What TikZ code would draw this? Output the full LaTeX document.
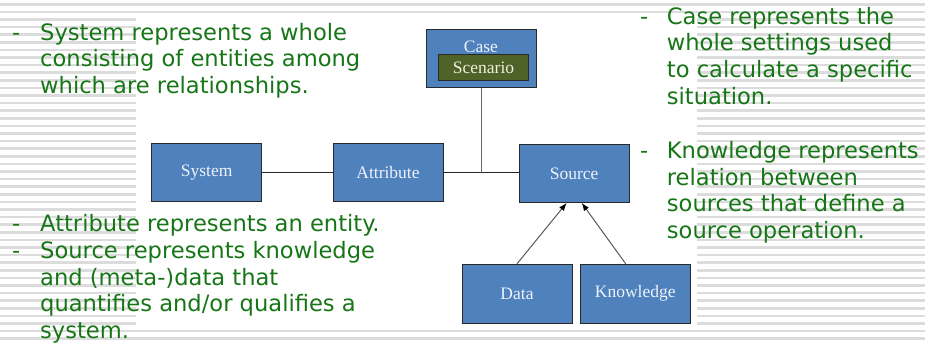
\documentclass[tikz,border=0pt]{standalone}
\usepackage{fontspec}
\setmainfont{Liberation Serif}
\newfontfamily\notefont{DejaVu Sans}
\usetikzlibrary{arrows.meta,calc}
\definecolor{boxblue}{RGB}{79,129,189}
\definecolor{boxline}{RGB}{40,40,40}
\definecolor{scenolive}{RGB}{79,98,40}
\definecolor{notegreen}{RGB}{22,118,22}
\definecolor{stripe}{RGB}{220,220,220}
\definecolor{labelwhite}{RGB}{238,242,250}
\definecolor{scentext}{RGB}{238,240,224}

\begin{document}
\begin{tikzpicture}[x=1pt,y=-1pt,
  block/.style={draw=boxline, line width=1pt, fill=boxblue,
    minimum width=110pt, minimum height=57.5pt, inner sep=0pt,
    text=labelwhite, font=\fontsize{17.5}{20}\selectfont},
  boxlabel/.style={inner sep=0pt, text=labelwhite, font=\fontsize{17.5}{20}\selectfont},
  note/.style={anchor=base west, inner sep=0pt, text=notegreen,
    font=\notefont\fontsize{22.6}{26.7}\selectfont},
  link/.style={draw=black!85, line width=0.9pt},
  feed/.style={draw=black!65, line width=1pt, -{Latex[length=8pt,width=6pt,color=black]}}]

\useasboundingbox (0,0) rectangle (925,343);

% striped slide background with a plain white panel behind the diagram
\foreach \k in {0,...,44}
  \fill[stripe] (0,{3+7.6*\k}) rectangle (925,{5.6+7.6*\k});
\fill[white] (136,17) rectangle (697,329);

% entity boxes
\node[block] (sys)  at (206.7,172.7) {System};
\node[block] (attr) at (388,172.7)   {Attribute};
\node[block] (src)  at (574.2,173.6) {Source};
\node[block, minimum height=59pt] (data) at (517,293.8)   {Data};
\node[block, minimum height=59pt] (know) at (635.3,293.8) {Knowledge};

% case box with the nested scenario
\node[block, minimum height=58pt] (case) at (481,58.7) {};
\node[boxlabel] (caselbl) at (481,46.5) {Case};
\node[draw=boxline, line width=1pt, fill=scenolive, minimum width=89.6pt,
  minimum height=25.7pt, inner sep=0pt, text=scentext,
  font=\fontsize{17.5}{20}\selectfont] (scen) at (483.5,67.8) {Scenario};

% connectors
\coordinate (junc) at (case.south |- attr.east);
\draw[link] (sys.east) -- (attr.west);
\draw[link] (attr.east) -- (attr.east -| src.west);
\draw[link, draw=black!60] (case.south) -- (junc);
\draw[feed] (data.north) -- ($(src.south)+(-7.5,0)$);
\draw[feed] ($(know.north)+(-9.6,0)$) -- ($(src.south)+(7.5,0)$);

% explanatory notes
\node[note] (sysnote) at (12,40) {\begin{tabular}[t]{@{}p{28pt}@{}l@{}}
  -& System represents a whole\\
   & consisting of entities among\\
   & which are relationships.\end{tabular}};
\node[note] (attrnote) at (12,231.7) {\begin{tabular}[t]{@{}p{28pt}@{}l@{}}
  -& Attribute represents an entity.\\
  -& Source represents knowledge\\
   & and (meta-)data that\\
   & quantifies and/or qualifies a\\
   & system.\end{tabular}};
\node[note] (casenote) at (640,24) {\begin{tabular}[t]{@{}p{26.7pt}@{}l@{}}
  -& Case represents the\\
   & whole settings used\\
   & to calculate a specific\\
   & situation.\end{tabular}};
\node[note] (knownote) at (640,158.3) {\begin{tabular}[t]{@{}p{26.7pt}@{}l@{}}
  -& Knowledge represents\\
   & relation between\\
   & sources that define a\\
   & source operation.\end{tabular}};
\end{tikzpicture}
\end{document}
